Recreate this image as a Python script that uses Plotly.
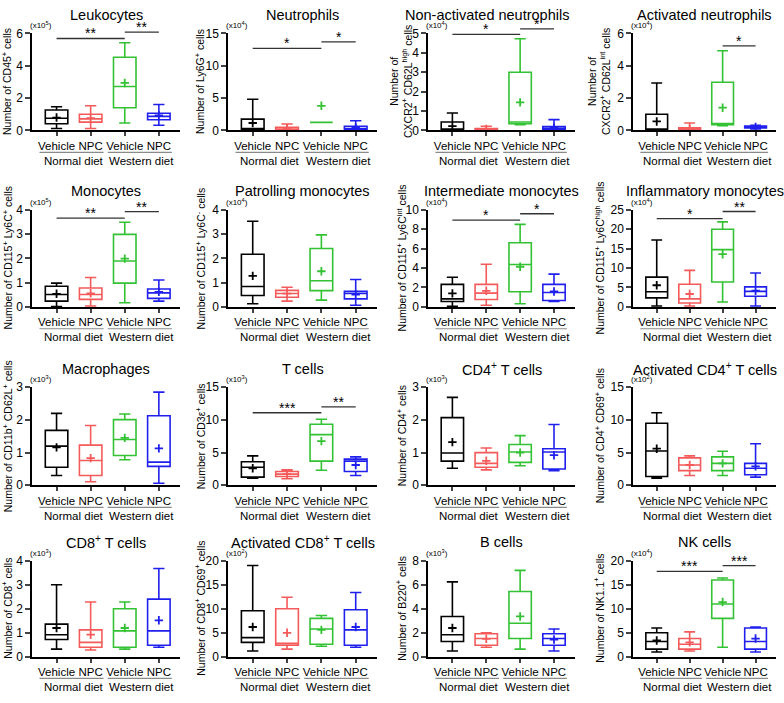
import plotly.graph_objects as go

W, H = 784, 703
FONT = "Arial, Liberation Sans, sans-serif"

groups = ["Vehicle", "NPC", "Vehicle", "NPC"]
diets = ["Normal diet", "Western diet"]
colors = ["#000000", "#f45a5a", "#33c233", "#2020ee"]

titles = ["Leukocytes", "Neutrophils", "Non-activated neutrophils", "Activated neutrophils",
          "Monocytes", "Patrolling monocytes", "Intermediate monocytes", "Inflammatory monocytes",
          "Macrophages", "T cells", "CD4<sup>+</sup> T cells", "Activated CD4<sup>+</sup> T cells",
          "CD8<sup>+</sup> T cells", "Activated CD8<sup>+</sup> T cells", "B cells", "NK cells"]
ylabels = ["Number of CD45<sup>+</sup> cells", "Number of Ly6G<sup>+</sup> cells",
           "Number of<br>CXCR2<sup>+</sup> CD62L<sup>high</sup> cells",
           "Number of<br>CXCR2<sup>+</sup> CD62L<sup>int</sup> cells",
           "Number of CD115<sup>+</sup> Ly6C<sup>+</sup> cells",
           "Number of CD115<sup>+</sup> Ly6C<sup>-</sup> cells",
           "Number of CD115<sup>+</sup> Ly6C<sup>int</sup> cells",
           "Number of CD115<sup>+</sup> Ly6C<sup>high</sup> cells",
           "Number of CD11b<sup>+</sup> CD62L<sup>+</sup> cells",
           "Number of CD3ε<sup>+</sup> cells", "Number of CD4<sup>+</sup> cells",
           "Number of CD4<sup>+</sup> CD69<sup>+</sup> cells",
           "Number of CD8<sup>+</sup> cells", "Number of CD8<sup>+</sup> CD69<sup>+</sup> cells",
           "Number of B220<sup>+</sup> cells", "Number of NK1.1<sup>+</sup> cells"]
exponents = [5, 4, 4, 4, 5, 4, 4, 4, 3, 3, 3, 2, 3, 2, 3, 4]
ymax = [6, 15, 5, 6, 4, 4, 10, 25, 3, 15, 3, 15, 4, 20, 8, 20]
ydtick = [2, 5, 1, 2, 1, 1, 2, 5, 1, 5, 1, 5, 1, 5, 2, 5]

# box statistics per panel (Vehicle-ND, NPC-ND, Vehicle-WD, NPC-WD)
lowerfence = [
    [0.12, 0.12, 0.46, 0.32],   # Leukocytes
    [0.05, 0.0, 1.15, 0.0],     # Neutrophils
    [0.0, 0.0, 0.30, 0.0],      # Non-activated neutrophils
    [0.0, 0.0, 0.30, 0.10],     # Activated neutrophils
    [0.01, 0.04, 0.17, 0.24],   # Monocytes
    [0.13, 0.24, 0.28, 0.07],   # Patrolling monocytes
    [0.07, 0.17, 0.33, 0.56],   # Intermediate monocytes
    [0.25, 0.25, 1.25, 0.25],   # Inflammatory monocytes
    [0.30, 0.11, 0.78, 0.06],   # Macrophages
    [1.1, 1.0, 2.3, 1.5],       # T cells
    [0.52, 0.47, 0.60, 0.45],   # CD4 T cells
    [1.1, 1.5, 1.5, 1.25],      # Activated CD4 T cells
    [0.32, 0.28, 0.32, 0.40],   # CD8 T cells
    [1.2, 1.6, 2.2, 2.0],       # Activated CD8 T cells
    [0.48, 0.80, 0.64, 0.48],   # B cells
    [1.0, 1.2, 2.0, 1.0],       # NK cells
]
q1 = [
    [0.42, 0.52, 1.41, 0.66],
    [0.15, 0.05, 1.30, 0.05],
    [0.02, 0.0, 0.35, 0.02],
    [0.02, 0.0, 0.36, 0.15],
    [0.24, 0.31, 0.98, 0.35],
    [0.47, 0.40, 0.67, 0.33],
    [0.56, 0.76, 1.56, 0.66],
    [2.33, 1.0, 6.42, 2.75],
    [0.55, 0.30, 0.91, 0.58],
    [1.25, 1.35, 3.7, 2.1],
    [0.74, 0.55, 0.70, 0.50],
    [1.35, 2.25, 2.25, 1.6],
    [0.72, 0.40, 0.40, 0.48],
    [3.0, 2.4, 2.6, 2.4],
    [1.28, 0.96, 1.52, 0.96],
    [1.6, 1.6, 8.0, 1.6],
]
median = [
    [0.76, 0.72, 2.72, 0.87],
    [0.30, 0.20, 1.25, 0.30],
    [0.05, 0.05, 0.44, 0.10],
    [0.06, 0.05, 0.40, 0.22],
    [0.51, 0.51, 1.89, 0.58],
    [0.84, 0.55, 1.08, 0.55],
    [0.83, 1.42, 4.37, 1.49],
    [3.92, 2.08, 14.75, 4.0],
    [1.20, 0.76, 1.40, 0.71],
    [2.75, 1.7, 7.75, 3.7],
    [0.99, 0.67, 1.02, 1.02],
    [5.25, 3.1, 3.35, 2.6],
    [0.92, 0.60, 1.08, 1.08],
    [4.0, 2.8, 5.8, 5.6],
    [1.84, 1.52, 2.80, 1.52],
    [3.2, 2.6, 11.0, 3.2],
]
q3 = [
    [1.27, 1.00, 4.53, 1.07],
    [1.76, 0.50, 7.45, 0.65],
    [0.44, 0.10, 3.00, 0.20],
    [1.00, 0.16, 2.98, 0.28],
    [0.85, 0.78, 2.99, 0.74],
    [2.17, 0.68, 2.41, 0.64],
    [2.32, 2.32, 6.62, 2.32],
    [7.67, 5.83, 20.0, 5.17],
    [1.68, 1.23, 2.01, 2.13],
    [3.6, 2.1, 9.35, 4.0],
    [2.07, 1.00, 1.25, 1.12],
    [9.5, 4.2, 4.35, 3.35],
    [1.36, 1.12, 2.00, 2.40],
    [9.6, 10.0, 8.0, 9.8],
    [3.36, 1.92, 5.44, 1.92],
    [5.0, 3.8, 16.0, 6.0],
]
upperfence = [
    [1.47, 1.53, 5.43, 1.61],
    [4.83, 1.00, 12.1, 1.50],
    [0.90, 0.22, 4.73, 0.56],
    [2.94, 0.46, 4.93, 0.32],
    [0.98, 1.21, 3.49, 1.11],
    [3.53, 0.81, 2.97, 1.13],
    [3.05, 4.40, 8.51, 3.38],
    [17.25, 9.42, 21.9, 8.75],
    [2.20, 1.83, 2.18, 2.85],
    [4.5, 2.35, 10.1, 4.35],
    [2.69, 1.14, 1.52, 1.86],
    [11.1, 4.5, 5.2, 6.35],
    [3.00, 2.28, 2.28, 3.68],
    [19.0, 12.4, 8.6, 13.4],
    [6.24, 2.00, 7.20, 2.32],
    [6.0, 5.2, 16.4, 6.2],
]
mean = [
    [0.80, 0.76, 2.94, 0.93],
    [1.16, 0.35, 3.82, 0.45],
    [0.22, 0.08, 1.45, 0.15],
    [0.56, 0.10, 1.41, 0.22],
    [0.54, 0.56, 1.99, 0.62],
    [1.28, 0.55, 1.47, 0.51],
    [1.39, 1.66, 4.14, 1.59],
    [5.58, 3.33, 13.58, 4.17],
    [1.16, 0.83, 1.45, 1.13],
    [2.6, 1.7, 6.75, 3.1],
    [1.32, 0.75, 1.00, 0.92],
    [5.6, 3.1, 3.35, 2.9],
    [1.20, 0.92, 1.20, 1.52],
    [6.2, 5.0, 5.6, 6.2],
    [2.40, 1.50, 3.36, 1.44],
    [3.4, 3.0, 11.4, 3.8],
]
# significance brackets: (panel, from group, to group, height, label)
sig_panel = [0, 0, 1, 1, 2, 2, 3, 4, 4, 6, 6, 7, 7, 9, 9, 15, 15]
sig_from = [0, 2, 0, 2, 0, 2, 2, 0, 2, 0, 2, 0, 2, 0, 2, 0, 2]
sig_to = [2, 3, 2, 3, 2, 3, 3, 2, 3, 2, 3, 2, 3, 2, 3, 2, 3]
sig_y = [5.69, 6.08, 12.7, 13.7, 4.95, 5.24, 5.23, 3.66, 3.93, 8.94, 9.6, 22.75, 24.58,
         11.1, 12.0, 17.8, 19.0]
sig_text = ["**", "**", "*", "*", "*", "*", "*", "**", "**", "*", "*", "*", "**",
            "***", "**", "***", "***"]

# layout geometry (window pixels)
col_left = [32, 228, 428, 633]
col_right = [180, 377, 575, 776]
row_top = [27, 207, 388, 565]
row_bot = [126, 306, 488, 663]
ylab_x = [7, 200, 401, 599]
title_dx = [0, 0, -14, 0, 0, 0, 0, 0, 0, 0, 0, 0, 0, 0, 0, 0]


def px(x):
    return x / W


def py(y):
    return 1 - y / H


fig = go.Figure()
shapes, annotations = [], []

for p in range(16):
    r, c = divmod(p, 4)
    ax = "" if p == 0 else str(p + 1)
    xa, ya = "x" + ax, "y" + ax
    for g in range(4):
        fig.add_trace(go.Box(
            x=[g], q1=[q1[p][g]], median=[median[p][g]], q3=[q3[p][g]],
            lowerfence=[lowerfence[p][g]], upperfence=[upperfence[p][g]],
            xaxis=xa, yaxis=ya, width=0.66, whiskerwidth=0.5,
            line=dict(color=colors[g], width=1.6), fillcolor="rgba(0,0,0,0)",
            boxpoints=False, hoverinfo="skip", showlegend=False))
        fig.add_trace(go.Scatter(
            x=[g], y=[mean[p][g]], mode="markers", xaxis=xa, yaxis=ya,
            marker=dict(symbol="cross-thin", size=6, line=dict(color=colors[g], width=1.8)),
            hoverinfo="skip", showlegend=False, cliponaxis=False))
    fig.layout["xaxis" + ax] = dict(
        domain=[px(col_left[c]), px(col_right[c])], anchor=ya, range=[-0.72, 3.62],
        tickvals=[0, 1, 2, 3], ticktext=groups,
        ticks="outside", ticklen=4, tickwidth=1.5, showline=True, linewidth=1.5,
        linecolor="black", showgrid=False, zeroline=False,
        tickfont=dict(size=11.5, color="black", family=FONT))
    fig.layout["yaxis" + ax] = dict(
        domain=[py(row_bot[r]), py(row_top[r])], anchor=xa, range=[0, ymax[p]],
        dtick=ydtick[p], ticks="outside",
        ticklen=5, tickwidth=1.5, showline=True, linewidth=1.5, linecolor="black",
        showgrid=False, zeroline=False,
        tickfont=dict(size=12, color="black", family=FONT))
    # group lines and diet labels
    for k, (a, b) in enumerate([(-0.5, 1.38), (1.5, 3.38)]):
        shapes.append(dict(type="line", xref=xa, yref=ya + " domain", x0=a, x1=b,
                           y0=-0.225, y1=-0.225, line=dict(color="#8a8a8a", width=1.2)))
        annotations.append(dict(xref=xa, yref=ya + " domain", x=2 * k + 0.5, y=-0.315,
                                text=diets[k], showarrow=False, yanchor="middle",
                                font=dict(size=11.5, color="black", family=FONT)))
    # title
    annotations.append(dict(xref="paper", yref="paper",
                            x=px((col_left[c] + col_right[c]) / 2 + title_dx[p]),
                            y=py(row_top[r] - 19), text=titles[p], showarrow=False,
                            xanchor="center", yanchor="middle",
                            font=dict(size=14.5, color="black", family=FONT)))
    # y label
    annotations.append(dict(xref="paper", yref="paper", x=px(ylab_x[c]),
                            y=py((row_top[r] + row_bot[r]) / 2), text=ylabels[p],
                            showarrow=False, textangle=-90, xanchor="center", yanchor="middle",
                            font=dict(size=10.5, color="black", family=FONT)))
    # exponent
    annotations.append(dict(xref="paper", yref="paper", x=px(col_left[c] - 4),
                            y=py(row_top[r] - 1),
                            text="(x10<sup>%d</sup>)" % exponents[p], showarrow=False,
                            xanchor="left", yanchor="bottom",
                            font=dict(size=8, color="black", family=FONT)))

for i in range(len(sig_panel)):
    p = sig_panel[i]
    ax = "" if p == 0 else str(p + 1)
    xa, ya = "x" + ax, "y" + ax
    frac = sig_y[i] / ymax[p]
    shapes.append(dict(type="line", xref=xa, yref=ya + " domain", x0=sig_from[i], x1=sig_to[i],
                       y0=frac, y1=frac, line=dict(color="#333333", width=1.3)))
    annotations.append(dict(xref=xa, yref=ya + " domain", x=(sig_from[i] + sig_to[i]) / 2,
                            y=frac, text=sig_text[i], showarrow=False, yanchor="bottom",
                            yshift=-5, font=dict(size=14, color="black", family=FONT)))

fig.update_layout(width=W, height=H, margin=dict(l=0, r=0, t=0, b=0),
                  paper_bgcolor="white", plot_bgcolor="white", shapes=shapes,
                  annotations=annotations, showlegend=False,
                  font=dict(family=FONT, color="black"))
fig.write_html("out.html", config={"displayModeBar": False},
               post_script="document.body.style.margin='0px';")
